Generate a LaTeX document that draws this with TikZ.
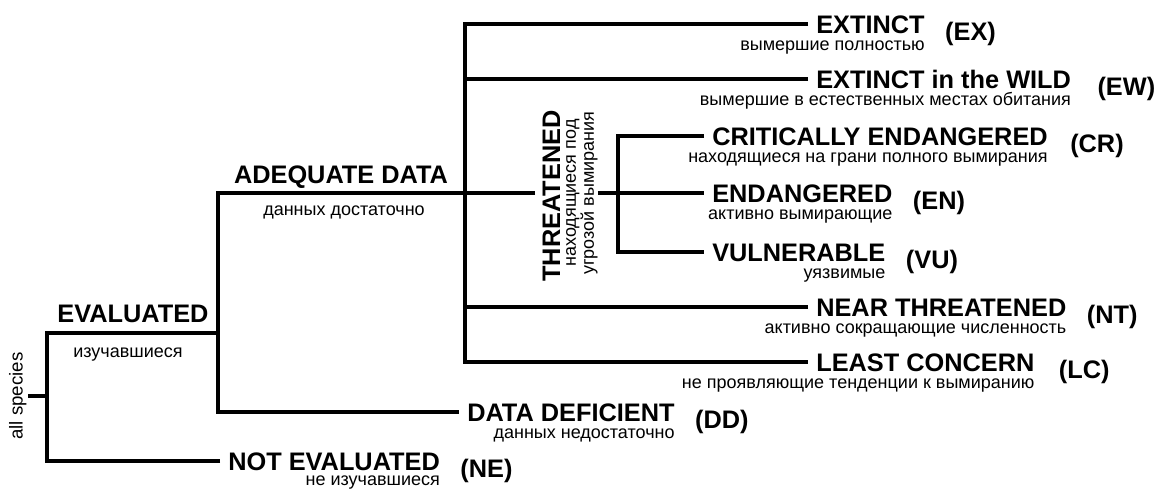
\documentclass[tikz,border=0pt]{standalone}
\usepackage{fontspec}
\setmainfont{Liberation Sans}
\usetikzlibrary{calc}
\tikzset{
  ln/.style={line width=2.4pt, line join=miter},
  lbl/.style={font=\fontsize{19}{21}\selectfont\bfseries, inner xsep=6pt, inner ysep=0pt, text height=13.6pt, text depth=0pt},
  leaf/.style={lbl, anchor=west},
  subt/.style={font=\fontsize{13.5}{13.5}\selectfont, inner sep=0pt},
  subr/.style={subt, anchor=base east},
  abbr/.style={font=\fontsize{19}{21}\selectfont\bfseries, inner sep=0pt, anchor=base west},
}
\begin{document}
\begin{tikzpicture}[x=0.75pt,y=-0.75pt]
\fill[white] (0,0) rectangle (1165,490);
\useasboundingbox (0,0) rectangle (1165,490);

% junctions
\coordinate (jR) at (47,396);
\coordinate (jE) at (218,333);
\coordinate (jA) at (465,193);
\coordinate (jT) at (618,193);

% root label
\node[subt, rotate=90, anchor=south, inner sep=1pt, font=\fontsize{14}{14}\selectfont] (sp) at (28,396) {all species};

% upper-level labels
\node[lbl, anchor=base] (EV) at (133,322) {EVALUATED};
\node[subt, anchor=base] (EVs) at (128,357) {изучавшиеся};
\node[lbl, anchor=base] (AD) at (341,183) {ADEQUATE DATA};
\node[subt, anchor=base] (ADs) at (344,215) {данных достаточно};

% leaves
\node[leaf] (NEm) at (220,461) {NOT EVALUATED};
\node[leaf] (DDm) at (459,412) {DATA DEFICIENT};
\node[leaf] (EXm) at (808,24) {EXTINCT};
\node[leaf] (EWm) at (808,79) {EXTINCT in the WILD};
\node[leaf] (CRm) at (704,136) {CRITICALLY ENDANGERED};
\node[leaf] (ENm) at (704,193) {ENDANGERED};
\node[leaf] (VUm) at (704,252) {VULNERABLE};
\node[leaf] (NTm) at (808,307) {NEAR THREATENED};
\node[leaf] (LCm) at (808,362) {LEAST CONCERN};

% sub texts
\node[subr] (NEs) at ([shift={(-8,15.5)}]NEm.south east) {не изучавшиеся};
\node[subr] (DDs) at ([shift={(-8,17.5)}]DDm.south east) {данных недостаточно};
\node[subr] (EXs) at ([shift={(-8,17.5)}]EXm.south east) {вымершие полностью};
\node[subr] (EWs) at ([shift={(-8,17.5)}]EWm.south east) {вымершие в естественных местах обитания};
\node[subr] (CRs) at ([shift={(-8,17.5)}]CRm.south east) {находящиеся на грани полного вымирания};
\node[subr] (ENs) at ([shift={(-8,17.5)}]ENm.south east) {активно вымирающие};
\node[subr] (VUs) at ([shift={(-8,17.5)}]VUm.south east) {уязвимые};
\node[subr] (NTs) at ([shift={(-8,17.5)}]NTm.south east) {активно сокращающие численность};
\node[subr] (LCs) at ([shift={(-8,17.5)}]LCm.south east) {не проявляющие тенденции к вымиранию};

% abbreviations
\node[abbr] (NEa) at ([shift={(12,16)}]NEm.east) {(NE)};
\node[abbr] (DDa) at ([shift={(12,16)}]DDm.east) {(DD)};
\node[abbr] (EXa) at ([shift={(12,16)}]EXm.east) {(EX)};
\node[abbr] (EWa) at ([shift={(18,16)}]EWm.east) {(EW)};
\node[abbr] (CRa) at ([shift={(14,16)}]CRm.east) {(CR)};
\node[abbr] (ENa) at ([shift={(12,16)}]ENm.east) {(EN)};
\node[abbr] (VUa) at ([shift={(12,16)}]VUm.east) {(VU)};
\node[abbr] (NTa) at ([shift={(12,16)}]NTm.east) {(NT)};
\node[abbr] (LCa) at ([shift={(16,16)}]LCm.east) {(LC)};

% threatened
\node[lbl, rotate=90, inner xsep=0pt] (thr) at (551,196) {THREATENED};
\node[subt, rotate=90, align=center] (thrs) at (582,193) {находящиеся под\\угрозой вымирания};

% connectors
\draw[ln] (sp.south) -- (jR);
\draw[ln] (NEm.west) -| (jR) |- (jE);
\draw[ln] ([xshift=-5pt]thr.north |- jA) -- (jA) -| (jE) |- (DDm.west);
\draw[ln] (EXm.west) -| (jA) |- (LCm.west);
\draw[ln] (EWm.west) -- (EWm.west -| jA);
\draw[ln] (NTm.west) -- (NTm.west -| jA);
\draw[ln] (thrs.south |- jA) -- (ENm.west);
\draw[ln] (CRm.west) -| (jT) |- (VUm.west);
\end{tikzpicture}
\end{document}
